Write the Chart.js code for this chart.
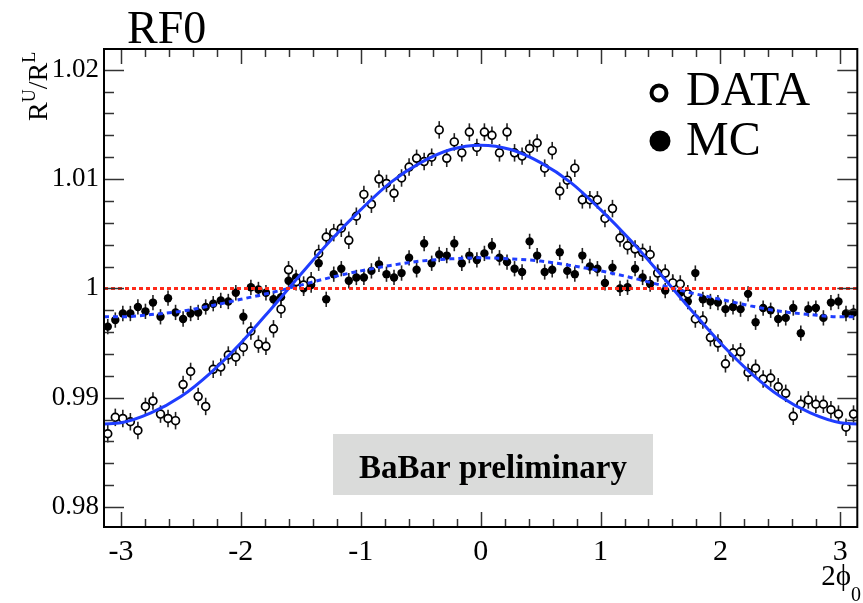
<!DOCTYPE html>
<html>
<head>
<meta charset="utf-8">
<script src="https://cdn.jsdelivr.net/npm/chart.js@4.4.0/dist/chart.umd.min.js"></script>
<style>
  html, body { margin: 0; padding: 0; background: #fff; }
  #wrap { width: 863px; height: 603px; }
</style>
</head>
<body>
<div id="wrap"><canvas id="myChart" width="863" height="603"></canvas></div>
<script>
// R^U/R^L in 100 bins of 2phi0 from -pi to pi
const dataValues = [
  0.9867, 0.9882, 0.9881, 0.9878, 0.9870, 0.9892, 0.9897, 0.9885, 0.9881, 0.9879,
  0.9912, 0.9924, 0.9901, 0.9892, 0.9926, 0.9928, 0.9939, 0.9937, 0.9946, 0.9961,
  0.9949, 0.9947, 0.9963, 0.9981, 1.0017, 1.0006, 1.0003, 1.0007, 1.0032, 1.0047,
  1.0051, 1.0055, 1.0044, 1.0066, 1.0086, 1.0077, 1.0100, 1.0096, 1.0087, 1.0101,
  1.0111, 1.0119, 1.0116, 1.0120, 1.0145, 1.0119, 1.0134, 1.0124, 1.0143, 1.0129,
  1.0143, 1.0140, 1.0124, 1.0143, 1.0124, 1.0121, 1.0128, 1.0133, 1.0110, 1.0126,
  1.0089, 1.0099, 1.0110, 1.0081, 1.0081, 1.0081, 1.0064, 1.0073, 1.0046, 1.0039,
  1.0036, 1.0033, 1.0031, 1.0014, 1.0014, 1.0005, 1.0004, 0.9995, 0.9972, 0.9971,
  0.9955, 0.9950, 0.9931, 0.9941, 0.9942, 0.9923, 0.9927, 0.9917, 0.9918, 0.9910,
  0.9904, 0.9883, 0.9894, 0.9898, 0.9894, 0.9894, 0.9889, 0.9885, 0.9873, 0.9885
];
const mcValues = [
  0.9965, 0.9971, 0.9977, 0.9977, 0.9983, 0.9979, 0.9987, 0.9974, 0.9991, 0.9978,
  0.9972, 0.9977, 0.9978, 0.9983, 0.9986, 0.9989, 0.9988, 0.9996, 0.9974, 1.0001,
  0.9999, 0.9996, 0.9990, 0.9992, 1.0007, 1.0010, 1.0000, 1.0003, 1.0023, 0.9990,
  1.0013, 1.0018, 1.0007, 1.0010, 1.0010, 1.0016, 1.0022, 1.0013, 1.0010, 1.0014,
  1.0028, 1.0017, 1.0041, 1.0023, 1.0031, 1.0030, 1.0041, 1.0023, 1.0030, 1.0026,
  1.0032, 1.0039, 1.0028, 1.0024, 1.0018, 1.0015, 1.0043, 1.0030, 1.0015, 1.0017,
  1.0033, 1.0016, 1.0013, 1.0030, 1.0020, 1.0018, 1.0005, 1.0019, 1.0000, 1.0001,
  1.0018, 1.0010, 1.0004, 1.0014, 0.9998, 1.0005, 0.9996, 0.9988, 1.0014, 0.9990,
  0.9988, 0.9987, 0.9981, 0.9983, 0.9981, 0.9995, 0.9969, 0.9982, 0.9980, 0.9972,
  0.9973, 0.9982, 0.9959, 0.9981, 0.9982, 0.9973, 0.9987, 0.9988, 0.9977, 0.9978
];
const dataErr = 0.0008;
const mcErr = 0.0007;

// fitted curves
const fitX = [-3.1416, -3.0, -2.75, -2.5, -2.25, -2.0, -1.75, -1.5, -1.25, -1.0, -0.75, -0.5, -0.25,
  0, 0.25, 0.5, 0.75, 1.0, 1.25, 1.5, 1.75, 2.0, 2.25, 2.5, 2.75, 3.0, 3.1416];
const fitData = [0.9876, 0.9877, 0.9886, 0.9901, 0.9923, 0.9950, 0.9981, 1.0013, 1.0044, 1.0072, 1.0097, 1.0115, 1.0127,
  1.0131, 1.0127, 1.0115, 1.0097, 1.0072, 1.0044, 1.0013, 0.9981, 0.9950, 0.9923, 0.9901, 0.9886, 0.9877, 0.9876];
const fitMC = [0.9974, 0.9974, 0.9976, 0.9979, 0.9984, 0.9990, 0.9996, 1.0003, 1.0010, 1.0016, 1.0021, 1.0025, 1.0027,
  1.0028, 1.0027, 1.0025, 1.0021, 1.0016, 1.0010, 1.0003, 0.9996, 0.9990, 0.9984, 0.9979, 0.9976, 0.9974, 0.9974];
const refX = [-Math.PI, Math.PI];
const refY = [1, 1];

const xTicks = [-3, -2, -1, 0, 1, 2, 3];
const yTicks = [0.98, 0.99, 1, 1.01, 1.02];
const xMin = -Math.PI, xMax = Math.PI;
const yMin = 0.97817, yMax = 1.0219;

const nBins = dataValues.length;
const binCenters = dataValues.map((_, i) => xMin + (i + 0.5) * (xMax - xMin) / nBins);

const pts = (xs, ys) => ys.map((v, i) => ({ x: xs[i], y: v }));
const serif = '"Liberation Serif", "Times New Roman", serif';

const rootStyle = {
    id: 'rootStyle',
    beforeDatasetsDraw(chart) {
        const { ctx, scales: { y } } = chart;
        ctx.save();
        // banner
        ctx.fillStyle = '#dadbda';
        ctx.fillRect(333, 434, 320, 61);
        ctx.fillStyle = '#000';
        ctx.font = 'bold 33px ' + serif;
        ctx.textAlign = 'center';
        ctx.fillText('BaBar preliminary', 493, 478);
        // error bars
        ctx.strokeStyle = '#222';
        ctx.lineWidth = 1.6;
        chart.data.datasets.forEach((ds, i) => {
            if (!ds.err) return;
            chart.getDatasetMeta(i).data.forEach((p, j) => {
                const v = ds.data[j].y;
                ctx.beginPath();
                ctx.moveTo(p.x, y.getPixelForValue(v - ds.err));
                ctx.lineTo(p.x, y.getPixelForValue(v + ds.err));
                ctx.stroke();
            });
        });
        ctx.restore();
    },
    afterDraw(chart) {
        const { ctx, chartArea: a, scales: { x, y } } = chart;
        ctx.save();
        // tick marks on all four sides
        ctx.strokeStyle = '#333';
        ctx.lineWidth = 1.5;
        const line = (x1, y1, x2, y2) => {
            ctx.beginPath(); ctx.moveTo(x1, y1); ctx.lineTo(x2, y2); ctx.stroke();
        };
        for (let k = -16; k <= 16; k++) {
            const v = k * 0.2;
            if (v < xMin || v > xMax) continue;
            const px = Math.round(x.getPixelForValue(v)) + 0.5;
            const L = k % 5 === 0 ? 15 : 8;
            line(px, a.bottom, px, a.bottom - L);
            line(px, a.top, px, a.top + L);
        }
        for (let k = 489; k <= 511; k++) {
            const v = k * 0.002;
            if (v < yMin || v > yMax) continue;
            const py = Math.round(y.getPixelForValue(v)) + 0.5;
            const L = k % 5 === 0 ? 20 : 10;
            line(a.left, py, a.left + L, py);
            line(a.right, py, a.right - L, py);
        }
        // frame
        ctx.strokeStyle = '#000';
        ctx.lineWidth = 2;
        ctx.strokeRect(a.left, a.top, a.right - a.left, a.bottom - a.top);

        ctx.fillStyle = '#000';
        ctx.textAlign = 'left';
        ctx.textBaseline = 'alphabetic';
        // title
        ctx.font = '46px ' + serif;
        ctx.fillText('RF0', 127, 43);

        // y axis title R^U/R^L
        ctx.save();
        ctx.translate(47, 121);
        ctx.rotate(-Math.PI / 2);
        let cx = 0;
        const part = (t, size, dy) => {
            ctx.font = size + 'px ' + serif;
            ctx.fillText(t, cx, dy);
            cx += ctx.measureText(t).width;
        };
        part('R', 28, 0);
        part('U', 18, -12);
        part('/', 28, 0);
        part('R', 28, 0);
        part('L', 18, -12);
        ctx.restore();

        // x axis title 2phi_0
        ctx.font = '20px ' + serif;
        const w0 = ctx.measureText('0').width;
        ctx.fillText('0', 861 - w0, 601);
        ctx.font = '29px ' + serif;
        const w1 = ctx.measureText('2ϕ').width;
        ctx.fillText('2ϕ', 861 - w0 - w1, 585);

        // legend
        ctx.lineWidth = 4;
        ctx.strokeStyle = '#000';
        ctx.fillStyle = '#fff';
        ctx.beginPath(); ctx.arc(659, 93, 7.5, 0, Math.PI * 2); ctx.fill(); ctx.stroke();
        ctx.fillStyle = '#000';
        ctx.beginPath(); ctx.arc(660, 141, 10.5, 0, Math.PI * 2); ctx.fill();
        ctx.font = '48px ' + serif;
        ctx.fillText('DATA', 686, 105);
        ctx.fillText('MC', 686, 155);
        ctx.restore();
    }
};

const ctx = document.getElementById('myChart').getContext('2d');
const myChart = new Chart(ctx, {
    type: 'line',
    data: {
        datasets: [{
            label: 'ref',
            data: pts(refX, refY),
            borderColor: '#ff2a1a',
            borderWidth: 3,
            borderDash: [4, 3],
            pointRadius: 0,
            order: 0
        }, {
            label: 'DATA fit',
            data: pts(fitX, fitData),
            borderColor: '#1f3dff',
            borderWidth: 3,
            pointRadius: 0,
            cubicInterpolationMode: 'monotone',
            order: 1
        }, {
            label: 'MC fit',
            data: pts(fitX, fitMC),
            borderColor: '#1f3dff',
            borderWidth: 3,
            borderDash: [5, 4],
            pointRadius: 0,
            cubicInterpolationMode: 'monotone',
            order: 2
        }, {
            label: 'DATA',
            data: pts(binCenters, dataValues),
            err: dataErr,
            showLine: false,
            pointRadius: 3.9,
            pointBorderWidth: 1.7,
            pointBackgroundColor: '#fff',
            pointBorderColor: '#000',
            order: 3
        }, {
            label: 'MC',
            data: pts(binCenters, mcValues),
            err: mcErr,
            showLine: false,
            pointRadius: 4.2,
            pointBorderWidth: 0,
            pointBackgroundColor: '#000',
            pointBorderColor: '#000',
            order: 4
        }]
    },
    options: {
        responsive: false,
        animation: false,
        devicePixelRatio: 1,
        layout: { padding: { top: 49, right: 3, left: 0, bottom: 0 } },
        plugins: {
            legend: { display: false },
            tooltip: { enabled: false }
        },
        scales: {
            x: {
                type: 'linear',
                min: xMin,
                max: xMax,
                afterFit: s => { s.height = 76; },
                afterBuildTicks: s => { s.ticks = xTicks.map(v => ({ value: v })); },
                grid: { display: false, drawTicks: false },
                border: { display: false },
                ticks: {
                    padding: 7,
                    maxRotation: 0,
                    autoSkip: false,
                    color: '#000',
                    font: { family: serif, size: 30 },
                    callback: v => String(v)
                }
            },
            y: {
                type: 'linear',
                min: yMin,
                max: yMax,
                afterFit: s => { s.width = 104; },
                afterBuildTicks: s => { s.ticks = yTicks.map(v => ({ value: v })); },
                grid: { display: false, drawTicks: false },
                border: { display: false },
                ticks: {
                    padding: 5,
                    autoSkip: false,
                    color: '#000',
                    font: { family: serif, size: 27 },
                    callback: v => (v === 1 ? '1' : v.toFixed(2))
                }
            }
        }
    },
    plugins: [rootStyle]
});
</script>
</body>
</html>
